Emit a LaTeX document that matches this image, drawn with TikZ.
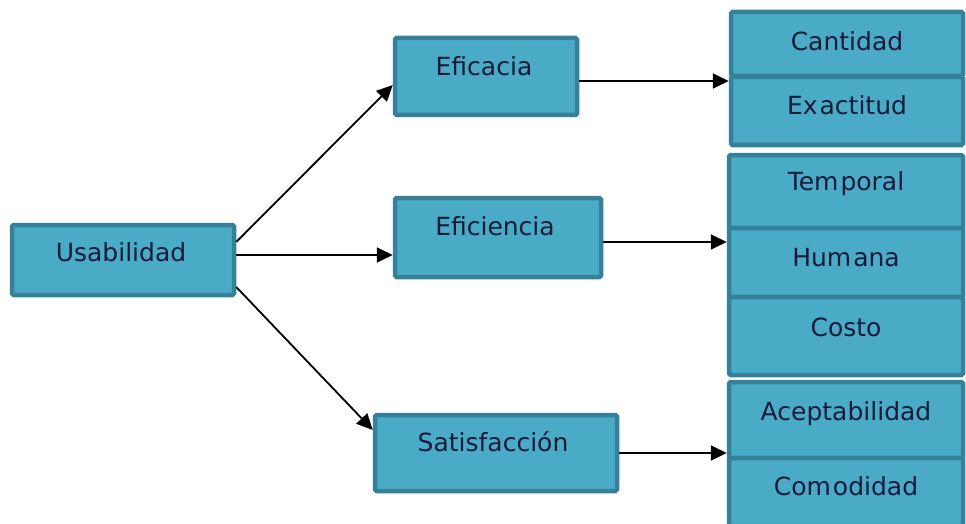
\documentclass[tikz,border=0pt]{standalone}
\usepackage{fontspec}
\setmainfont{DejaVu Sans}
\usetikzlibrary{arrows.meta}
\definecolor{boxfill}{HTML}{4AABC7}
\definecolor{boxline}{HTML}{35819A}
\definecolor{txt}{HTML}{1A1A3A}
\begin{document}
\begin{tikzpicture}[x=1pt,y=-1pt,
  box/.style={draw=boxline, fill=boxfill, line width=4.5pt, rounded corners=1.5pt, inner sep=0pt},
  lbl/.style={text=txt, inner sep=0pt, text height=0.73em, text depth=0pt, yshift=-5pt, font=\fontsize{25}{30}\selectfont},
  arr/.style={line width=1.8pt, -{Triangle[length=16pt,width=15pt]}}]
\useasboundingbox[fill=white] (0,0) rectangle (966,524);
% left and middle boxes
\node[box, minimum width=222pt, minimum height=70pt] (usab) at (123,260) {};
\node[lbl] (usabt) at (121,253) {Usabilidad};
\node[box, minimum width=182pt, minimum height=77pt] (efic) at (486,76.5) {};
\node[lbl] (efict) at (484,67) {Eficacia};
\node[box, minimum width=206pt, minimum height=79pt] (efin) at (498,237.5) {};
\node[lbl] (efint) at (495,227) {Eficiencia};
\node[box, minimum width=242pt, minimum height=76pt] (satf) at (496,453) {};
\node[lbl] (satft) at (493,443) {Satisfacción};
% right stacks
\node[box, minimum width=232pt, minimum height=64pt] (cant) at (847,44) {};
\node[lbl] (cantt) at (847,42) {Cantidad};
\node[box, minimum width=232pt, minimum height=68pt] (exac) at (847,111) {};
\node[lbl] (exact) at (847,106) {Ex\kern2pt actitud};
\node[box, minimum width=234pt, minimum height=73pt] (temp) at (846,191.5) {};
\node[lbl] (tempt) at (846,182) {Tem\kern2pt poral};
\node[box, minimum width=234pt, minimum height=69pt] (huma) at (846,262.5) {};
\node[lbl] (humat) at (846,258) {Hum\kern2pt ana};
\node[box, minimum width=234pt, minimum height=78pt] (cost) at (846,336) {};
\node[lbl] (costt) at (846,328) {Costo};
\node[box, minimum width=234pt, minimum height=76pt] (acep) at (846,420) {};
\node[lbl] (acept) at (846,412) {Aceptabilidad};
\node[box, minimum width=234pt, minimum height=68pt] (como) at (846,492) {};
\node[lbl] (comot) at (846,487) {Com\kern2pt odidad};
% connectors
\draw[arr] ([yshift=18pt]usab.east) -- ([yshift=-8.5pt]efic.west);
\draw[arr] ([yshift=5pt]usab.east) -- ([yshift=-17.5pt]efin.west);
\draw[arr] ([yshift=-27pt]usab.east) -- ([yshift=23pt]satf.west);
\draw[arr] ([yshift=-4.5pt]efic.east) -- ([yshift=-4.5pt]efic.east -| cant.west);
\draw[arr] ([yshift=-4.5pt]efin.east) -- ([yshift=-4.5pt]efin.east -| temp.west);
\draw[arr] (satf.east) -- (satf.east -| acep.west);
\end{tikzpicture}
\end{document}
